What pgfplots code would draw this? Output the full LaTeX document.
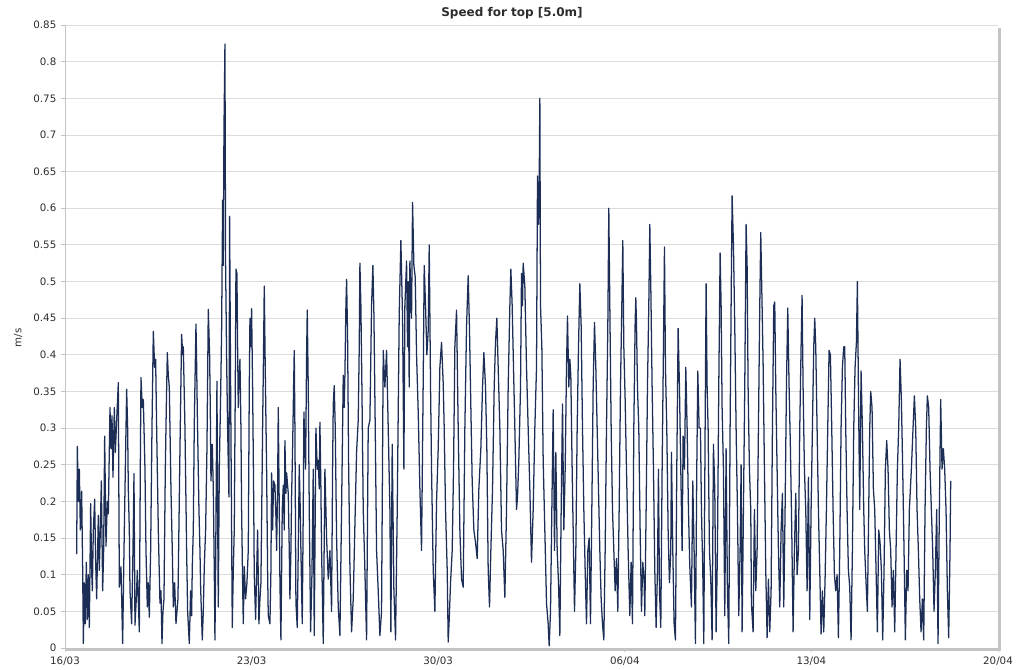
\documentclass[border=0pt]{standalone}
\usepackage{fontspec}
\setmainfont{DejaVu Sans}
\usepackage{pgfplots}
\pgfplotsset{compat=1.18}
\definecolor{series}{RGB}{28,46,86}
\definecolor{gridc}{RGB}{220,220,220}
\definecolor{axisc}{RGB}{196,196,196}
\definecolor{txt}{RGB}{45,45,45}
\begin{document}
\begin{tikzpicture}
\begin{axis}[
  at={(0pt,0pt)}, anchor=south west,
  scale only axis, width=699.75pt, height=467.25pt,
  xmin=0, xmax=35, ymin=0, ymax=0.85,
  axis x line*=bottom, axis y line*=left,
  axis line style={draw=axisc, line width=0.6pt},
  xtick={0,7,14,21,28,35},
  xticklabels={16/03,23/03,30/03,06/04,13/04,20/04},
  ytick={0,0.05,0.1,0.15,0.2,0.25,0.3,0.35,0.4,0.45,0.5,0.55,0.6,0.65,0.7,0.75,0.8,0.85},
  yticklabels={0,0.05,0.1,0.15,0.2,0.25,0.3,0.35,0.4,0.45,0.5,0.55,0.6,0.65,0.7,0.75,0.8,0.85},
  /pgf/number format/assume math mode=true,
  ymajorgrids, major grid style={draw=gridc, line width=0.6pt},
  tick align=outside, major tick length=3pt,
  tick style={draw=axisc, line width=0.6pt},
  ticklabel style={font=\fontsize{7.7}{9}\selectfont, text=txt},
  clip=false,
]
\addplot[series, line width=0.95pt, line join=round, mark=none] coordinates {
(0.438,0.128)(0.463,0.275)(0.5,0.2)(0.538,0.244)(0.575,0.161)(0.625,0.214)(0.663,0.106)(0.688,0.006)(0.725,0.089)(0.763,0.033)(0.8,0.117)(0.838,0.039)(0.875,0.1)(0.913,0.028)(0.963,0.197)(1.0,0.106)(1.025,0.078)(1.063,0.161)(1.113,0.203)(1.15,0.117)(1.188,0.067)(1.25,0.181)(1.288,0.106)(1.325,0.161)(1.363,0.228)(1.413,0.078)(1.45,0.133)(1.488,0.289)(1.538,0.139)(1.588,0.2)(1.625,0.183)(1.688,0.328)(1.725,0.272)(1.763,0.317)(1.8,0.233)(1.85,0.328)(1.888,0.267)(1.938,0.311)(2.0,0.362)(2.038,0.083)(2.1,0.111)(2.163,0.006)(2.213,0.133)(2.263,0.244)(2.313,0.353)(2.35,0.3)(2.375,0.217)(2.413,0.161)(2.438,0.078)(2.5,0.033)(2.55,0.133)(2.588,0.238)(2.625,0.031)(2.675,0.067)(2.713,0.106)(2.788,0.022)(2.825,0.244)(2.85,0.369)(2.9,0.328)(2.938,0.339)(3.0,0.244)(3.038,0.133)(3.088,0.056)(3.125,0.089)(3.163,0.042)(3.213,0.133)(3.263,0.3)(3.313,0.432)(3.363,0.383)(3.4,0.394)(3.438,0.3)(3.5,0.161)(3.563,0.061)(3.6,0.078)(3.638,0.006)(3.675,0.05)(3.713,0.067)(3.763,0.244)(3.8,0.328)(3.838,0.403)(3.875,0.372)(3.913,0.356)(3.975,0.217)(4.025,0.133)(4.063,0.056)(4.113,0.089)(4.163,0.033)
(4.238,0.067)(4.313,0.272)(4.375,0.428)(4.413,0.4)(4.438,0.411)(4.5,0.3)(4.563,0.133)(4.6,0.05)(4.663,0.006)(4.713,0.078)(4.75,0.044)(4.775,0.111)(4.813,0.161)(4.85,0.306)(4.913,0.442)(4.938,0.389)(4.963,0.322)(5.025,0.189)(5.063,0.133)(5.088,0.083)(5.15,0.011)(5.188,0.05)(5.225,0.111)(5.275,0.161)(5.325,0.272)(5.375,0.462)(5.425,0.4)(5.45,0.328)(5.475,0.228)(5.525,0.278)(5.563,0.217)(5.6,0.106)(5.625,0.011)(5.65,0.106)(5.7,0.364)(5.725,0.189)(5.75,0.056)(5.788,0.244)(5.838,0.344)(5.875,0.433)(5.913,0.611)(5.938,0.522)(5.963,0.706)(6.0,0.824)(6.025,0.522)(6.063,0.394)(6.1,0.3)(6.15,0.206)(6.175,0.589)(6.213,0.356)(6.25,0.161)(6.275,0.028)(6.313,0.106)(6.35,0.161)(6.388,0.356)(6.413,0.517)(6.45,0.511)(6.475,0.411)(6.5,0.328)(6.525,0.367)(6.563,0.394)(6.6,0.3)(6.625,0.189)(6.663,0.089)(6.688,0.033)(6.725,0.111)(6.775,0.067)(6.825,0.089)(6.875,0.133)(6.913,0.356)(6.938,0.45)(6.975,0.411)(7.0,0.463)(7.038,0.356)(7.075,0.217)(7.1,0.1)(7.15,0.039)(7.188,0.1)(7.225,0.161)(7.275,0.033)(7.313,0.067)(7.35,0.089)(7.413,0.3)(7.45,0.411)(7.475,0.494)(7.513,0.378)(7.563,0.244)(7.6,0.106)(7.625,0.044)(7.688,0.033)(7.725,0.106)(7.75,0.239)(7.788,0.161)(7.825,0.228)(7.875,0.222)(7.913,0.178)(7.938,0.133)(7.975,0.217)(8.0,0.328)(8.038,0.189)(8.063,0.089)(8.1,0.011)(8.15,0.189)(8.188,0.222)(8.225,0.161)(8.25,0.283)(8.288,0.211)(8.313,0.239)(8.375,0.211)(8.413,0.133)(8.438,0.067)(8.475,0.133)(8.5,0.206)(8.538,0.272)(8.575,0.356)
(8.6,0.406)(8.625,0.3)(8.663,0.061)(8.713,0.028)(8.75,0.133)(8.788,0.25)(8.825,0.189)(8.85,0.133)(8.9,0.033)(8.938,0.189)(8.963,0.322)(9.0,0.272)(9.025,0.244)(9.063,0.4)(9.088,0.461)(9.125,0.356)(9.163,0.189)(9.213,0.022)(9.263,0.1)(9.313,0.244)(9.35,0.017)(9.388,0.189)(9.413,0.3)(9.463,0.244)(9.5,0.256)(9.538,0.217)(9.563,0.308)(9.6,0.217)(9.625,0.133)(9.688,0.006)(9.75,0.244)(9.788,0.189)(9.813,0.15)(9.875,0.094)(9.938,0.133)(10.0,0.05)(10.038,0.244)(10.063,0.333)(10.1,0.358)(10.138,0.3)(10.188,0.15)(10.25,0.056)(10.313,0.017)(10.375,0.189)(10.438,0.372)(10.475,0.328)(10.5,0.372)(10.538,0.467)(10.563,0.503)(10.6,0.428)(10.638,0.256)(10.688,0.111)(10.75,0.022)(10.813,0.067)(10.875,0.167)(10.938,0.267)(11.0,0.311)(11.038,0.411)(11.063,0.525)(11.1,0.467)(11.138,0.356)(11.188,0.189)(11.25,0.106)(11.313,0.011)(11.375,0.3)(11.438,0.311)(11.5,0.467)(11.55,0.522)(11.588,0.456)(11.638,0.3)(11.688,0.133)(11.75,0.078)(11.813,0.017)(11.875,0.05)(11.938,0.406)(12.0,0.356)(12.063,0.406)(12.125,0.3)(12.188,0.189)(12.225,0.022)(12.275,0.278)(12.338,0.078)(12.4,0.011)(12.463,0.189)(12.538,0.456)(12.6,0.556)(12.663,0.45)(12.713,0.244)(12.75,0.467)
(12.813,0.528)(12.85,0.411)(12.875,0.5)(12.913,0.356)(12.938,0.528)(13.0,0.45)(13.038,0.608)(13.088,0.522)(13.138,0.506)(13.188,0.4)(13.25,0.322)(13.313,0.217)(13.375,0.133)(13.438,0.367)(13.475,0.522)(13.525,0.467)(13.575,0.4)(13.625,0.433)(13.663,0.55)(13.713,0.356)(13.75,0.244)(13.813,0.106)(13.875,0.05)(13.938,0.2)(14.0,0.272)(14.063,0.383)(14.125,0.417)(14.188,0.361)(14.225,0.3)(14.275,0.189)(14.338,0.106)(14.375,0.008)(14.413,0.039)(14.463,0.089)(14.525,0.133)(14.575,0.244)(14.625,0.411)(14.688,0.461)(14.75,0.3)(14.813,0.161)(14.875,0.094)(14.938,0.083)(15.0,0.3)(15.063,0.439)(15.125,0.508)(15.175,0.433)(15.225,0.328)(15.275,0.228)(15.338,0.161)(15.4,0.144)(15.463,0.122)(15.525,0.217)(15.6,0.272)(15.663,0.356)(15.713,0.403)(15.775,0.356)(15.825,0.272)(15.875,0.106)(15.925,0.056)(15.975,0.133)(16.038,0.217)(16.1,0.356)(16.15,0.417)(16.2,0.45)(16.25,0.383)(16.313,0.3)(16.375,0.161)(16.438,0.133)(16.5,0.069)(16.563,0.189)(16.625,0.356)(16.688,0.467)(16.725,0.517)(16.775,0.467)(16.825,0.383)(16.875,0.3)(16.938,0.189)(16.975,0.206)(17.025,0.256)
(17.088,0.356)(17.125,0.511)(17.163,0.467)(17.188,0.525)(17.25,0.494)(17.313,0.383)(17.375,0.3)(17.438,0.217)(17.5,0.117)(17.563,0.189)(17.625,0.3)(17.688,0.383)(17.725,0.644)(17.763,0.578)(17.788,0.633)(17.813,0.75)(17.838,0.467)(17.888,0.411)(17.938,0.256)(18.0,0.161)(18.063,0.061)(18.125,0.033)(18.163,0.003)(18.213,0.05)(18.263,0.189)(18.313,0.325)(18.363,0.133)(18.413,0.267)(18.463,0.133)(18.513,0.089)(18.563,0.017)(18.613,0.189)(18.663,0.333)(18.713,0.161)(18.763,0.244)(18.813,0.383)(18.85,0.453)(18.9,0.356)(18.938,0.394)(18.975,0.372)(19.025,0.244)(19.063,0.161)(19.113,0.05)(19.163,0.133)(19.213,0.3)(19.263,0.411)(19.313,0.497)(19.363,0.439)(19.413,0.3)(19.463,0.189)(19.513,0.106)(19.563,0.033)(19.613,0.133)(19.663,0.15)(19.713,0.033)(19.763,0.189)(19.813,0.356)(19.863,0.444)(19.913,0.383)(19.963,0.3)(20.013,0.217)(20.063,0.133)(20.113,0.067)(20.163,0.033)(20.213,0.011)(20.263,0.133)(20.313,0.3)(20.363,0.439)(20.4,0.6)(20.438,0.467)(20.488,0.3)(20.538,0.189)(20.588,0.133)(20.638,0.078)(20.688,0.122)(20.738,0.05)(20.788,0.189)(20.838,0.356)(20.888,0.467)(20.925,0.556)(20.963,0.411)(21.013,0.339)(21.063,0.244)(21.125,0.133)(21.188,0.044)(21.238,0.117)(21.288,0.033)(21.338,0.3)(21.388,0.444)
(21.413,0.478)(21.438,0.444)(21.475,0.356)(21.525,0.3)(21.575,0.161)(21.625,0.05)(21.675,0.117)(21.725,0.089)(21.75,0.044)(21.8,0.189)(21.85,0.356)(21.9,0.467)(21.938,0.578)(21.975,0.494)(22.025,0.356)(22.075,0.244)(22.125,0.106)(22.175,0.028)(22.225,0.106)(22.263,0.244)(22.3,0.078)(22.35,0.028)(22.4,0.244)(22.45,0.411)(22.488,0.547)(22.525,0.383)(22.575,0.3)(22.625,0.161)(22.675,0.089)(22.725,0.133)(22.75,0.267)(22.8,0.133)(22.85,0.033)(22.9,0.011)(22.95,0.244)(23.0,0.436)(23.05,0.356)(23.1,0.244)(23.15,0.133)(23.188,0.289)(23.238,0.244)(23.288,0.383)(23.338,0.3)(23.388,0.189)(23.438,0.111)(23.5,0.056)(23.55,0.228)(23.6,0.133)(23.65,0.006)(23.7,0.244)(23.738,0.378)(23.788,0.3)(23.838,0.3)(23.875,0.189)(23.925,0.106)(23.963,0.006)(24.013,0.3)(24.05,0.497)(24.088,0.356)(24.125,0.3)(24.175,0.133)(24.225,0.094)(24.275,0.011)(24.325,0.278)(24.375,0.217)(24.425,0.022)(24.475,0.133)(24.525,0.356)(24.575,0.539)(24.613,0.467)(24.65,0.328)(24.7,0.244)(24.75,0.044)(24.8,0.272)(24.85,0.078)(24.9,0.006)(24.95,0.3)(24.988,0.467)(25.025,0.617)(25.075,0.55)(25.125,0.439)(25.175,0.3)(25.225,0.189)(25.275,0.044)(25.325,0.133)(25.363,0.25)(25.4,0.022)(25.45,0.189)(25.5,0.356)(25.55,0.578)(25.588,0.522)(25.625,0.356)(25.675,0.244)(25.725,0.189)
(25.75,0.061)(25.813,0.022)(25.863,0.189)(25.913,0.078)(25.963,0.133)(26.013,0.3)(26.063,0.467)(26.1,0.567)(26.15,0.467)(26.188,0.389)(26.238,0.244)(26.288,0.106)(26.338,0.014)(26.388,0.094)(26.438,0.022)(26.488,0.078)(26.538,0.3)(26.588,0.467)(26.625,0.472)(26.663,0.356)(26.713,0.244)(26.763,0.133)(26.813,0.056)(26.863,0.161)(26.913,0.211)(26.963,0.056)(27.013,0.189)(27.063,0.356)(27.113,0.464)(27.163,0.356)(27.213,0.272)(27.263,0.161)(27.313,0.022)(27.363,0.133)(27.413,0.211)(27.463,0.1)(27.513,0.133)(27.563,0.3)(27.613,0.411)(27.65,0.481)(27.688,0.356)(27.738,0.244)(27.788,0.189)(27.838,0.078)(27.888,0.233)(27.938,0.039)(27.988,0.189)(28.038,0.3)(28.088,0.411)(28.125,0.45)(28.163,0.411)(28.213,0.3)(28.263,0.189)(28.313,0.106)(28.363,0.019)(28.413,0.078)(28.463,0.022)(28.513,0.094)(28.563,0.189)(28.613,0.3)(28.663,0.406)(28.713,0.4)(28.763,0.3)(28.813,0.189)(28.863,0.1)(28.913,0.078)(28.963,0.1)(29.013,0.014)(29.063,0.133)(29.113,0.3)(29.163,0.383)(29.213,0.411)(29.25,0.411)(29.288,0.3)(29.338,0.189)(29.388,0.106)(29.438,0.083)(29.488,0.011)(29.538,0.133)(29.588,0.3)(29.638,0.383)(29.688,0.417)(29.725,0.5)(29.763,0.356)(29.813,0.189)(29.863,0.378)(29.913,0.3)(29.963,0.189)
(30.0,0.133)(30.05,0.089)(30.1,0.05)(30.15,0.189)(30.188,0.3)(30.225,0.35)(30.275,0.328)(30.325,0.217)(30.375,0.189)(30.425,0.106)(30.475,0.022)(30.525,0.161)(30.575,0.144)(30.625,0.106)(30.675,0.011)(30.725,0.106)(30.775,0.244)(30.825,0.283)(30.875,0.244)(30.925,0.161)(30.975,0.133)(31.025,0.056)(31.075,0.106)(31.125,0.022)(31.175,0.133)(31.225,0.244)(31.275,0.3)(31.325,0.394)(31.375,0.339)(31.425,0.244)(31.475,0.133)(31.525,0.011)(31.575,0.106)(31.625,0.078)(31.675,0.189)(31.75,0.244)(31.813,0.3)(31.863,0.344)(31.913,0.3)(31.963,0.189)(32.013,0.133)(32.063,0.067)(32.113,0.022)(32.163,0.067)(32.213,0.011)(32.263,0.189)(32.313,0.3)(32.35,0.344)(32.4,0.328)(32.45,0.244)(32.5,0.189)(32.55,0.133)(32.6,0.05)(32.65,0.106)(32.7,0.189)(32.75,0.006)(32.8,0.189)(32.85,0.339)(32.9,0.244)(32.95,0.272)(33.0,0.244)(33.05,0.189)(33.1,0.078)(33.15,0.014)(33.2,0.133)(33.225,0.228)
};
\draw[draw=axisc, line width=2.2pt] ([yshift=-1.1pt]rel axis cs:0,0) -- ([yshift=-1.1pt,xshift=2.2pt]rel axis cs:1,0);
\draw[draw=axisc, line width=2pt] ([xshift=1pt]rel axis cs:1,0) -- ([xshift=1pt,yshift=-2pt]rel axis cs:1,1);
\end{axis}
\node[font=\fontsize{9}{11}\selectfont\bfseries, text=txt] at (335.25pt,476.25pt) {Speed for top [5.0m]};
\node[rotate=90, font=\fontsize{7.7}{9}\selectfont, text=txt] at (-35.25pt,232.5pt) {m/s};
\pgfresetboundingbox
\path[use as bounding box] (-48.75pt,-16.5pt) rectangle (719.25pt,486pt);
\end{tikzpicture}
\end{document}
